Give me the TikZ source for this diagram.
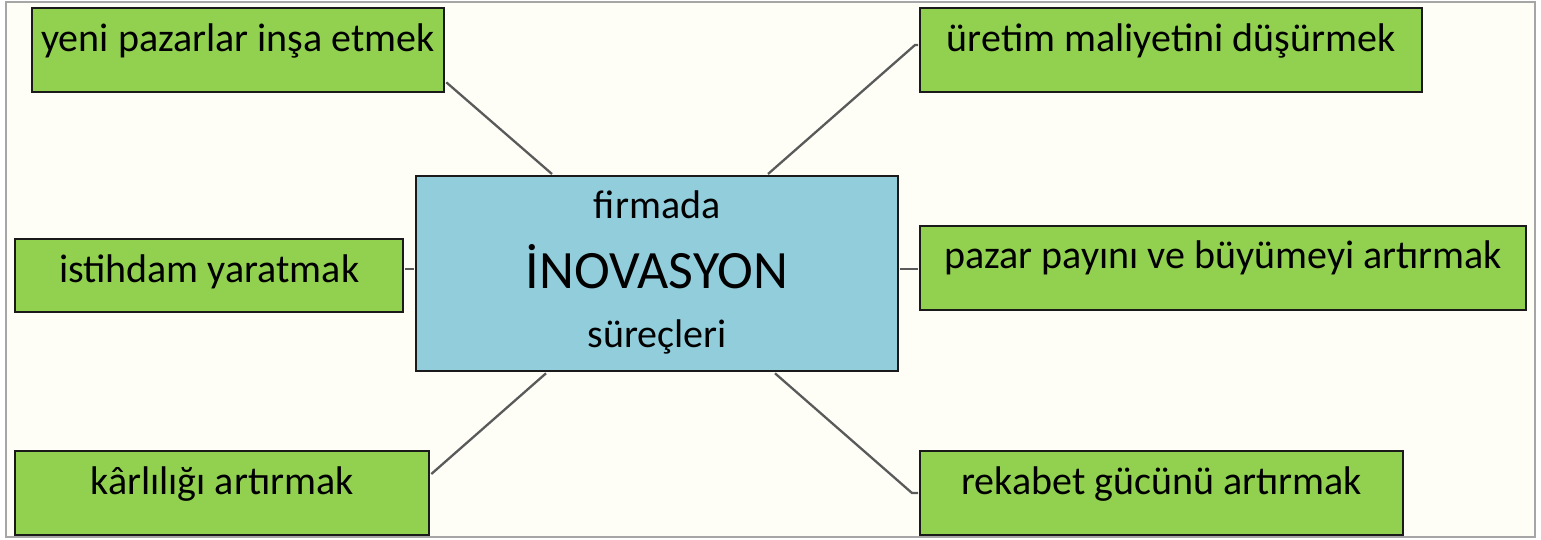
\documentclass[tikz,border=0pt]{standalone}
\usepackage{fontspec}
\setmainfont{Carlito}
\usetikzlibrary{calc}
\definecolor{bgc}{HTML}{FEFEF7}
\definecolor{framec}{HTML}{A6A6A6}
\definecolor{greenc}{HTML}{92D050}
\definecolor{bluec}{HTML}{92CDDC}
\definecolor{linec}{HTML}{5A5A5A}
\definecolor{edgec}{HTML}{1A1A1A}
\tikzset{
  gbox/.style={draw=edgec, line width=2.3pt, fill=greenc, rectangle, inner sep=0pt, anchor=north west},
  cbox/.style={draw=edgec, line width=2.3pt, fill=bluec, rectangle, inner sep=0pt, anchor=north west},
  btxt/.style={anchor=base, inner sep=0pt, font=\fontsize{40}{48}\selectfont},
  bigtxt/.style={anchor=base, inner sep=0pt, font=\fontsize{54}{62}\selectfont},
  conn/.style={draw=linec, line width=2.3pt}
}
\begin{document}
\begin{tikzpicture}[x=1pt,y=-1pt]
\useasboundingbox (0,0) rectangle (1541,539);
\fill[white] (0,0) rectangle (1541,539);
\draw[framec, line width=1.5pt, fill=bgc] (6,2) rectangle (1535,537);

% boxes
\node[gbox, minimum width=412pt, minimum height=84pt] (b1) at (31,7) {};
\node[gbox, minimum width=502pt, minimum height=84pt] (b2) at (919,7) {};
\node[gbox, minimum width=388pt, minimum height=73pt] (b3) at (14,238) {};
\node[gbox, minimum width=606pt, minimum height=84pt] (b4) at (919,225) {};
\node[gbox, minimum width=414pt, minimum height=84pt] (b5) at (14,450) {};
\node[gbox, minimum width=483pt, minimum height=84pt] (b6) at (919,450) {};
\node[cbox, minimum width=482pt, minimum height=195pt] (c) at (415,175) {};

% texts
\node[btxt] (t1) at ($(b1.north)+(0,44)$) {yeni pazarlar inşa etmek};
\node[btxt] (t2) at ($(b2.north)+(0,44)$) {üretim maliyetini düşürmek};
\node[btxt] (t3) at ($(b3.north)+(0,44)$) {istihdam yaratmak};
\node[btxt] (t4) at ($(b4.north)+(0,43)$) {pazar payını ve büyümeyi artırmak};
\node[btxt] (t5) at ($(b5.north)+(0,44)$) {kârlılığı artırmak};
\node[btxt] (t6) at ($(b6.north)+(0,44)$) {rekabet gücünü artırmak};
\node[btxt] (tc1) at ($(c.north)+(0,43)$) {firmada};
\node[bigtxt] (tc2) at ($(c.north)+(0,113)$) {İNOVASYON};
\node[btxt] (tc3) at ($(c.north)+(0,172)$) {süreçleri};

% connectors
\draw[conn] ($(b1.south east)+(1,-11)$) -- ($(c.north west)+(137,-1)$);
\draw[conn] ($(c.north west)+(353,-1)$) -- ($(b2.north west)+(-4,38)$) -- ($(b2.north west)+(-1,38)$);
\draw[conn] ($(b3.north east)+(1,31)$) -- ($(c.north west)+(-1,94)$);
\draw[conn] ($(c.north east)+(1,94)$) -- ($(b4.north west)+(-1,44)$);
\draw[conn] ($(b5.north east)+(1,24)$) -- ($(c.south west)+(131,1)$);
\draw[conn] ($(c.south west)+(360,1)$) -- ($(b6.north west)+(-7,43)$) -- ($(b6.north west)+(-1,43)$);
\end{tikzpicture}
\end{document}
